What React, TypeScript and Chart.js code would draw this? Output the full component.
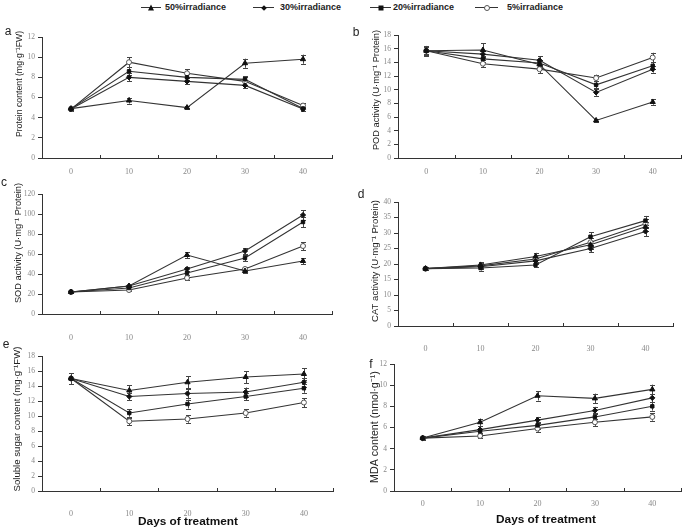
import React, { useEffect, useRef } from 'react';
import { Chart, registerables } from 'chart.js';

Chart.register(...registerables);

// ---------- data ----------
const days = ['0', '10', '20', '30', '40'];
const seriesNames = ['50%irradiance', '30%irradiance', '20%irradiance', '5%irradiance'];

// a: Protein content
const protein50 = [4.9, 5.7, 5.0, 9.4, 9.8];
const protein30 = [4.85, 8.0, 7.6, 7.2, 4.85];
const protein20 = [4.9, 8.6, 8.0, 7.8, 4.9];
const protein5 = [4.85, 9.5, 8.4, 7.6, 5.2];
const proteinErr50 = [0.15, 0.3, 0.15, 0.45, 0.45];
const proteinErr30 = [0.15, 0.4, 0.3, 0.3, 0.2];
const proteinErr20 = [0.15, 0.4, 0.3, 0.3, 0.2];
const proteinErr5 = [0.2, 0.5, 0.4, 0.4, 0.25];

// b: POD activity
const pod50 = [15.7, 15.8, 13.7, 5.5, 8.2];
const pod30 = [15.7, 15.2, 14.3, 9.6, 13.0];
const pod20 = [15.7, 14.5, 13.9, 10.7, 13.5];
const pod5 = [15.7, 13.8, 13.0, 11.7, 14.7];
const podErr50 = [0.7, 1.0, 0.5, 0.2, 0.4];
const podErr30 = [0.5, 0.5, 0.6, 0.5, 0.5];
const podErr20 = [0.5, 0.5, 0.5, 0.5, 0.5];
const podErr5 = [0.6, 0.5, 0.6, 0.5, 0.7];

// c: SOD activity
const sod50 = [22, 28, 59, 43, 53];
const sod30 = [22, 28, 45, 63, 99];
const sod20 = [22, 26, 41, 56, 92];
const sod5 = [22, 24, 36, 45, 68];
const sodErr50 = [1, 1, 3, 1.5, 3];
const sodErr30 = [1, 1, 2.5, 3, 5];
const sodErr20 = [1, 1, 2, 3, 5];
const sodErr5 = [1, 1, 1.5, 2, 4];

// d: CAT activity
const cat50 = [18.5, 19.7, 22.4, 26.2, 32.0];
const cat30 = [18.5, 19.1, 21.0, 25.0, 30.5];
const cat20 = [18.5, 18.7, 19.7, 28.8, 34.0];
const cat5 = [18.5, 19.4, 21.6, 27.0, 33.0];
const catErr50 = [0.5, 0.8, 1.2, 1.3, 1.5];
const catErr30 = [0.5, 0.8, 1.0, 1.2, 1.5];
const catErr20 = [0.5, 0.8, 0.8, 1.5, 1.5];
const catErr5 = [0.5, 0.8, 1.2, 1.3, 1.5];

// e: Soluble sugar content
const sugar50 = [15.0, 13.4, 14.5, 15.2, 15.6];
const sugar30 = [15.0, 12.6, 13.0, 13.2, 14.5];
const sugar20 = [15.0, 10.4, 11.6, 12.6, 13.7];
const sugar5 = [15.0, 9.3, 9.6, 10.4, 11.8];
const sugarErr50 = [0.7, 0.7, 0.8, 0.8, 0.8];
const sugarErr30 = [0.7, 0.5, 0.6, 0.6, 0.6];
const sugarErr20 = [0.7, 0.5, 0.6, 0.5, 0.6];
const sugarErr5 = [0.7, 0.5, 0.5, 0.5, 0.6];

// f: MDA content
const mda50 = [5.0, 6.5, 9.0, 8.75, 9.6];
const mda30 = [5.0, 5.8, 6.7, 7.6, 8.8];
const mda20 = [5.0, 5.65, 6.2, 7.0, 8.0];
const mda5 = [5.0, 5.2, 5.9, 6.5, 7.0];
const mdaErr50 = [0.15, 0.35, 0.45, 0.45, 0.45];
const mdaErr30 = [0.15, 0.3, 0.3, 0.35, 0.4];
const mdaErr20 = [0.15, 0.25, 0.3, 0.35, 0.4];
const mdaErr5 = [0.15, 0.2, 0.3, 0.35, 0.35];

// ---------- styles ----------
const markerStyles = [
  { ps: 'triangle', r: 3.0, bg: '#111', bc: '#111' },
  { ps: 'rectRot', r: 2.6, bg: '#111', bc: '#111' },
  { ps: 'rect', r: 2.4, bg: '#111', bc: '#111' },
  { ps: 'circle', r: 2.5, bg: '#fff', bc: '#555' },
];

type PanelDef = {
  letter: string;
  box: { x: number; y: number; w: number; h: number };
  area: { l: number; t: number; r: number; b: number };
  yMax: number;
  yStep: number;
  values: number[][];
  errors: number[][];
  yTitle: string;
  yTitleCenter: [number, number];
  yTitleLen: number;
  letterPos: [number, number];
  tickPad: number;
  xTitle?: { cx: number; cy: number; len: number };
};

const panels: PanelDef[] = [
  {
    letter: 'a', box: { x: 0, y: 20, w: 343, h: 165 }, area: { l: 42, t: 37, r: 332, b: 158 },
    yMax: 12, yStep: 2,
    values: [protein50, protein30, protein20, protein5],
    errors: [proteinErr50, proteinErr30, proteinErr20, proteinErr5],
    yTitle: 'Protein content (mg·g⁻¹FW)', yTitleCenter: [20, 84], yTitleLen: 106,
    letterPos: [8, 32], tickPad: 9,
  },
  {
    letter: 'b', box: { x: 343, y: 20, w: 343, h: 165 }, area: { l: 398, t: 35, r: 681, b: 158 },
    yMax: 18, yStep: 2,
    values: [pod50, pod30, pod20, pod5],
    errors: [podErr50, podErr30, podErr20, podErr5],
    yTitle: 'POD activity (U·mg⁻¹ Protein)', yTitleCenter: [376, 90], yTitleLen: 120,
    letterPos: [356, 33], tickPad: 9,
  },
  {
    letter: 'c', box: { x: 0, y: 176, w: 343, h: 176 }, area: { l: 42, t: 194, r: 332, b: 314 },
    yMax: 120, yStep: 20,
    values: [sod50, sod30, sod20, sod5],
    errors: [sodErr50, sodErr30, sodErr20, sodErr5],
    yTitle: 'SOD activity (U·mg⁻¹ Protein)', yTitleCenter: [18, 243], yTitleLen: 120,
    letterPos: [4, 183], tickPad: 19,
  },
  {
    letter: 'd', box: { x: 343, y: 180, w: 343, h: 176 }, area: { l: 398, t: 202, r: 673, b: 326 },
    yMax: 40, yStep: 5,
    values: [cat50, cat30, cat20, cat5],
    errors: [catErr50, catErr30, catErr20, catErr5],
    yTitle: 'CAT activity (U·mg⁻¹ Protein)', yTitleCenter: [375, 261], yTitleLen: 122,
    letterPos: [361, 195], tickPad: 18,
  },
  {
    letter: 'e', box: { x: 0, y: 338, w: 343, h: 193 }, area: { l: 42, t: 356, r: 333, b: 491 },
    yMax: 18, yStep: 2,
    values: [sugar50, sugar30, sugar20, sugar5],
    errors: [sugarErr50, sugarErr30, sugarErr20, sugarErr5],
    yTitle: 'Soluble sugar content (mg·g⁻¹FW)', yTitleCenter: [17, 419], yTitleLen: 145,
    letterPos: [6, 345], tickPad: 18,
    xTitle: { cx: 188, cy: 522, len: 100 },
  },
  {
    letter: 'f', box: { x: 343, y: 350, w: 343, h: 181 }, area: { l: 394, t: 364, r: 682, b: 491 },
    yMax: 12, yStep: 2,
    values: [mda50, mda30, mda20, mda5],
    errors: [mdaErr50, mdaErr30, mdaErr20, mdaErr5],
    yTitle: 'MDA content (nmol·g⁻¹)', yTitleCenter: [375, 427], yTitleLen: 111,
    letterPos: [371, 365], tickPad: 8.5,
    xTitle: { cx: 546, cy: 520, len: 100 },
  },
];

// ---------- plugins ----------
const errorBarPlugin = {
  id: 'errorBars',
  beforeDatasetsDraw(chart: any) {
    const { ctx } = chart;
    const ys = chart.scales.y;
    chart.data.datasets.forEach((ds: any, di: number) => {
      const errs = ds.errors as number[] | undefined;
      if (!errs) return;
      const meta = chart.getDatasetMeta(di);
      ctx.save();
      ctx.strokeStyle = '#444';
      ctx.lineWidth = 1;
      meta.data.forEach((pt: any, i: number) => {
        const v = ds.data[i];
        const e = errs[i];
        const y1 = ys.getPixelForValue(v - e);
        const y2 = ys.getPixelForValue(v + e);
        const x = Math.round(pt.x) + 0.5;
        ctx.beginPath();
        ctx.moveTo(x, y1);
        ctx.lineTo(x, y2);
        ctx.moveTo(x - 2.5, Math.round(y1) + 0.5);
        ctx.lineTo(x + 2.5, Math.round(y1) + 0.5);
        ctx.moveTo(x - 2.5, Math.round(y2) + 0.5);
        ctx.lineTo(x + 2.5, Math.round(y2) + 0.5);
        ctx.stroke();
      });
      ctx.restore();
    });
  },
};

function fitFont(ctx: CanvasRenderingContext2D, text: string, len: number, weight: string, family: string) {
  ctx.font = `${weight} 10px ${family}`;
  const w = ctx.measureText(text).width;
  const size = (10 * len) / w;
  ctx.font = `${weight} ${size.toFixed(2)}px ${family}`;
}

const decorPlugin = {
  id: 'decor',
  afterDraw(chart: any) {
    const o = chart.options.plugins.decor;
    if (!o) return;
    const { ctx, chartArea } = chart;
    const xs = chart.scales.x;
    const n = chart.data.labels.length;
    const step = xs.getPixelForValue(1) - xs.getPixelForValue(0);
    ctx.save();
    // inward tick marks on the x axis at category boundaries
    ctx.strokeStyle = '#333';
    ctx.lineWidth = 1;
    ctx.beginPath();
    for (let i = 0; i < n; i++) {
      const x = Math.round(xs.getPixelForValue(i) + step / 2) + 0.5;
      ctx.moveTo(x, chartArea.bottom);
      ctx.lineTo(x, chartArea.bottom - 3);
    }
    ctx.stroke();

    const fam = '"Liberation Sans", Arial, sans-serif';
    // panel letter
    ctx.fillStyle = '#222';
    ctx.font = `12px ${fam}`;
    ctx.textAlign = 'center';
    ctx.textBaseline = 'middle';
    ctx.fillText(o.letter, o.letterX, o.letterY);

    // y title
    ctx.save();
    ctx.translate(o.titleX, o.titleY);
    ctx.rotate(-Math.PI / 2);
    fitFont(ctx, o.yTitle, o.yTitleLen, 'normal', fam);
    ctx.fillStyle = '#222';
    ctx.fillText(o.yTitle, 0, 0);
    ctx.restore();

    // x title
    if (o.xTitle) {
      fitFont(ctx, o.xTitle, o.xTitleLen, 'bold', fam);
      ctx.fillStyle = '#111';
      ctx.textAlign = 'center';
      ctx.textBaseline = 'middle';
      ctx.fillText(o.xTitle, o.xTitleX, o.xTitleY);
    }
    ctx.restore();
  },
};

// ---------- components ----------
function Panel({ def }: { def: PanelDef }) {
  const ref = useRef<HTMLCanvasElement>(null);
  useEffect(() => {
    const canvas = ref.current;
    if (!canvas) return;
    const { box, area } = def;
    const padTop = area.t - box.y;
    const padRight = box.x + box.w - area.r;
    const yW = area.l - box.x;
    const xH = box.y + box.h - area.b;
    const chart = new Chart(canvas, {
      type: 'line',
      data: {
        labels: days,
        datasets: def.values.map((vals, i) => ({
          label: seriesNames[i],
          data: vals,
          errors: def.errors[i],
          borderColor: '#333',
          borderWidth: 1.1,
          pointStyle: markerStyles[i].ps,
          pointRadius: markerStyles[i].r,
          pointBackgroundColor: markerStyles[i].bg,
          pointBorderColor: markerStyles[i].bc,
          pointBorderWidth: 1,
          tension: 0,
          fill: false,
        })) as any,
      },
      options: {
        responsive: false,
        animation: false,
        devicePixelRatio: 1,
        events: [],
        layout: { padding: { top: padTop, right: padRight, left: 0, bottom: 0 } },
        plugins: {
          legend: { display: false },
          tooltip: { enabled: false },
          decor: {
            letter: def.letter,
            letterX: def.letterPos[0] - box.x,
            letterY: def.letterPos[1] - box.y,
            yTitle: def.yTitle,
            yTitleLen: def.yTitleLen,
            titleX: def.yTitleCenter[0] - box.x,
            titleY: def.yTitleCenter[1] - box.y,
            xTitle: def.xTitle ? 'Days of treatment' : null,
            xTitleLen: def.xTitle ? def.xTitle.len : 0,
            xTitleX: def.xTitle ? def.xTitle.cx - box.x : 0,
            xTitleY: def.xTitle ? def.xTitle.cy - box.y : 0,
          },
        } as any,
        scales: {
          x: {
            type: 'category',
            offset: true,
            grid: { display: true, drawOnChartArea: false, drawTicks: false },
            border: { display: true, color: '#333', width: 1 },
            ticks: {
              font: { family: '"Liberation Serif", "DejaVu Serif", serif', size: 8 },
              color: '#888',
              padding: def.tickPad,
              maxRotation: 0,
              autoSkip: false,
            },
            afterFit: (s: any) => { s.height = xH; },
          },
          y: {
            min: 0,
            max: def.yMax,
            ticks: {
              stepSize: def.yStep,
              font: { family: '"Liberation Serif", "DejaVu Serif", serif', size: 7.5 },
              color: '#888',
              padding: 3,
            },
            grid: { drawOnChartArea: false, drawTicks: true, tickLength: 4, color: '#333' },
            border: { display: true, color: '#333', width: 1 },
            afterFit: (s: any) => { s.width = yW; },
          },
        },
      },
      plugins: [errorBarPlugin, decorPlugin],
    });
    return () => chart.destroy();
  }, [def]);
  return (
    <canvas
      ref={ref}
      width={def.box.w}
      height={def.box.h}
      style={{ position: 'absolute', left: def.box.x, top: def.box.y, width: def.box.w, height: def.box.h }}
    />
  );
}

const legendPos = [
  { x1: 141, x2: 161, text: 165 },
  { x1: 253, x2: 274, text: 280 },
  { x1: 370, x2: 391, text: 393 },
  { x1: 475, x2: 498, text: 507 },
];

function Marker({ i }: { i: number }) {
  if (i === 0)
    return <div style={{ width: 0, height: 0, borderLeft: '3.5px solid transparent', borderRight: '3.5px solid transparent', borderBottom: '6px solid #111', marginTop: -1 }} />;
  if (i === 1)
    return <div style={{ width: 4, height: 4, background: '#111', transform: 'rotate(45deg)' }} />;
  if (i === 2)
    return <div style={{ width: 5, height: 5, background: '#111' }} />;
  return <div style={{ width: 4, height: 4, background: '#fff', border: '1px solid #555', borderRadius: '50%' }} />;
}

function Legend() {
  return (
    <>
      {seriesNames.map((name, i) => {
        const p = legendPos[i];
        return (
          <React.Fragment key={name}>
            <div style={{ position: 'absolute', left: p.x1, top: 7, width: p.x2 - p.x1, height: 1, background: '#333' }} />
            <div style={{ position: 'absolute', left: (p.x1 + p.x2) / 2, top: 7.5, transform: 'translate(-50%, -50%)', display: 'flex' }}>
              <Marker i={i} />
            </div>
            <div style={{ position: 'absolute', left: p.text, top: 1, font: 'bold 9px "Liberation Sans", Arial, sans-serif', color: '#222', lineHeight: '13px', whiteSpace: 'nowrap' }}>
              {name}
            </div>
          </React.Fragment>
        );
      })}
    </>
  );
}

export default function App() {
  return (
    <div style={{ position: 'absolute', left: 0, top: 0, width: 686, height: 531, background: '#fff', overflow: 'hidden' }}>
      <Legend />
      {panels.map((p) => (
        <Panel key={p.letter} def={p} />
      ))}
    </div>
  );
}
